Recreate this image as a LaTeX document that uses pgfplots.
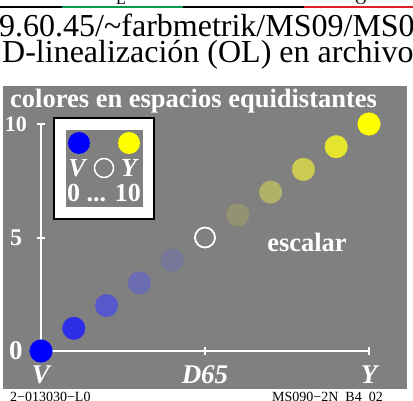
\documentclass[border=0pt]{standalone}
\usepackage{fontspec}
\setmainfont{Liberation Serif}
\usepackage{pgfplots}
\pgfplotsset{compat=1.18}
\definecolor{bg}{RGB}{128,128,128}
\definecolor{lgreen}{RGB}{0,155,75}
\definecolor{lred}{RGB}{225,30,35}
\definecolor{p0}{RGB}{0,0,255}
\definecolor{p1}{RGB}{46,46,232}
\definecolor{p2}{RGB}{88,88,205}
\definecolor{p3}{RGB}{108,108,178}
\definecolor{p4}{RGB}{120,120,153}
\definecolor{p6}{RGB}{147,147,114}
\definecolor{p7}{RGB}{177,177,106}
\definecolor{p8}{RGB}{203,203,82}
\definecolor{p9}{RGB}{229,229,48}
\definecolor{p10}{RGB}{255,255,0}
\newcommand{\fs}[1]{\fontsize{#1}{#1}\selectfont}
\begin{document}
\begin{tikzpicture}[x=1pt,y=1pt]
\useasboundingbox (0,0) rectangle (413,400);
\clip (0,0) rectangle (413,400);
% top strip
\draw[line width=2.5pt,black] (0,393)--(62,393);
\draw[line width=2.5pt,lgreen] (62,393)--(183,393);
\draw[line width=2.5pt,black] (183,393)--(304,393);
\draw[line width=2.5pt,lred] (304,393)--(413,393);
\node[anchor=base,inner sep=0pt] at (121,395) {\fs{16}L};
\node[anchor=base,inner sep=0pt] at (361,395) {\fs{16}O};
% header
\node[anchor=base west,inner sep=0pt] at (-1,363) {\fs{32}9.60.45/\textasciitilde farbmetrik/MS09/MS09};
\node[anchor=base west,inner sep=0pt] at (2,337) {\fs{32}D-linealización (OL) en archivo};
% gray panel
\fill[bg] (3,11) rectangle (407,314);
\node[anchor=base west,inner sep=0pt,white] at (10,292) {\fs{26.5}\bfseries colores en espacios equidistantes};
% legend box
\draw[line width=2pt,fill=white] (54,181) rectangle (154,282);
\fill[bg] (66,193) rectangle (143,270);
\fill[p0] (79,257) circle (11);
\fill[p10] (129,257) circle (11);
\node[white,inner sep=0pt] at (77,232) {\fs{26}\bfseries\itshape V};
\draw[white,line width=1.5pt] (104,232) circle (9.5);
\node[white,inner sep=0pt] at (129,232) {\fs{26}\bfseries\itshape Y};
\node[white,inner sep=0pt] at (104,207) {\fs{26}\bfseries 0 ... 10};
\node[white,inner sep=0pt] at (307,158) {\fs{26.5}\bfseries escalar};
% footer
\node[anchor=base west,inner sep=0pt] at (10,-1) {\fs{14}2\textminus 013030\textminus L0};
\node[anchor=base east,inner sep=0pt] at (383,-1) {\fs{14}MS090\textminus 2N\_B4\_02};
\begin{axis}[
  at={(41pt,49pt)}, anchor=south west,
  scale only axis, width=328pt, height=227pt,
  xmin=0, xmax=10, ymin=0, ymax=10,
  axis lines=left,
  axis line style={white, line width=2pt, -},
  tick style={white, line width=2pt},
  major tick length=8pt, tick align=center,
  xtick={0,5,10}, ytick={0,5,10},
  xticklabels={V,D65,Y},
  yticklabels={{\fs{27}0},{\fs{24}5},{\fs{22}10}},
  xticklabel style={white, font=\fs{27}\bfseries\itshape, anchor=center, yshift=-20pt},
  yticklabel style={white, font=\bfseries, anchor=center, xshift=-21pt},
  clip=false,
]
\addplot[scatter, only marks, mark=*, mark size=11.3pt,
  point meta=explicit symbolic,
  scatter/classes={a={p0},b={p1},c={p2},d={p3},e={p4},g={p6},h={p7},i={p8},j={p9},k={p10}}]
  table[meta=c] {
x y c
0 0 a
1 1 b
2 2 c
3 3 d
4 4 e
6 6 g
7 7 h
8 8 i
9 9 j
10 10 k
};
\addplot[only marks, mark=o, mark size=10pt, white, mark options={line width=1.8pt}]
  coordinates {(5,5)};
\end{axis}
\end{tikzpicture}
\end{document}
